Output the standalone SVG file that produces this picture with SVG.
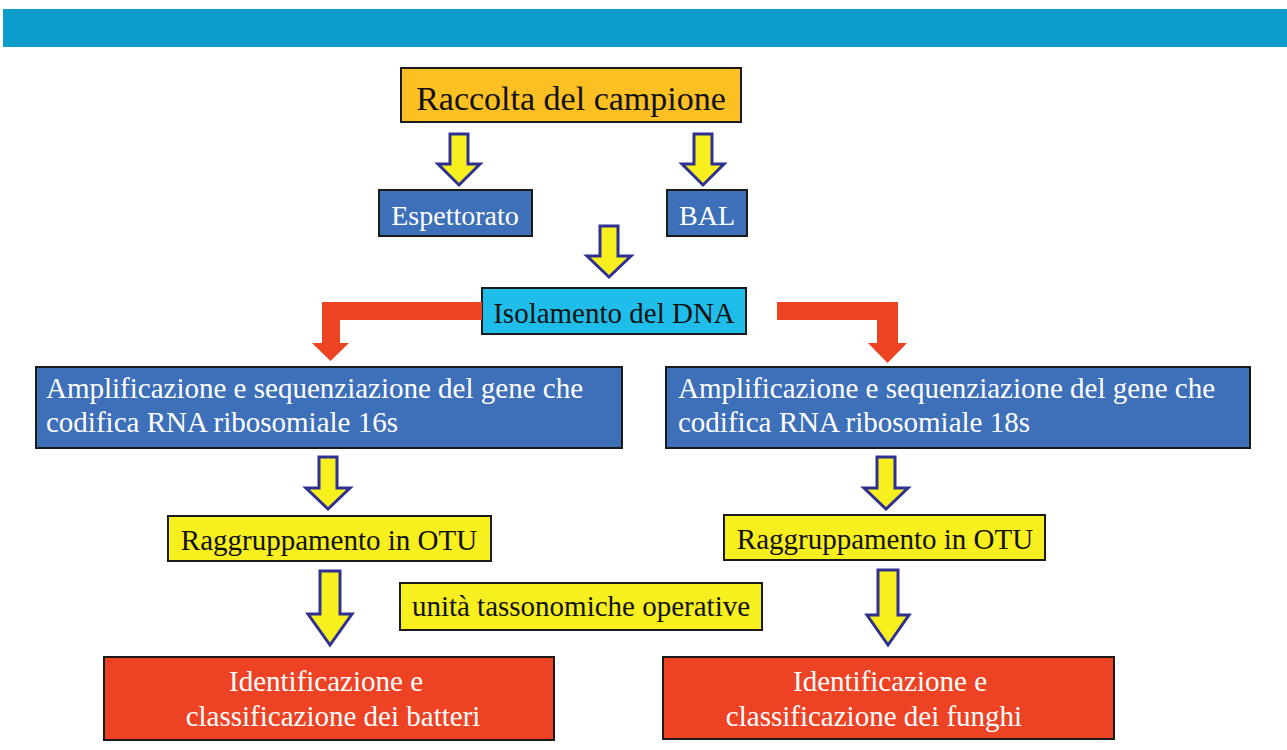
<svg xmlns="http://www.w3.org/2000/svg" width="1287" height="750" viewBox="0 0 1287 750">
<style>
text{font-family:"Liberation Serif","Times New Roman",serif;font-size:29px}
.box{stroke:#1a1a1a;stroke-width:2}
.gold{fill:#FDC022}
.blue{fill:#3E6FB9}
.cyan{fill:#1EBDEA}
.yel{fill:#F8EF1E}
.red{fill:#EE4224}
.tw{fill:#ffffff}
.tb{fill:#111111}
.c{text-anchor:middle}
.ya{fill:#F8EF1E;stroke:#2E3192;stroke-width:3;stroke-linejoin:miter}
.ra{fill:#EE4323}
</style>
<rect x="3" y="9" width="1284" height="38" fill="#0C9DCC"/>
<g id="raccolta">
<rect class="box gold" x="401" y="68" width="340" height="54"/>
<text class="tb c" x="571" y="110" style="font-size:34px">Raccolta del campione</text>
</g>
<g id="espettorato">
<rect class="box blue" x="379" y="190" width="153" height="46"/>
<text class="tw c" x="455" y="225" style="font-size:28px">Espettorato</text>
</g>
<g id="bal">
<rect class="box blue" x="667" y="190" width="80" height="46"/>
<text class="tw c" x="707" y="225" style="font-size:28px">BAL</text>
</g>
<g id="isolamento">
<rect class="box cyan" x="482" y="288" width="264" height="46"/>
<text class="tb c" x="614" y="323">Isolamento del DNA</text>
</g>
<g id="ampl16s">
<rect class="box blue" x="36" y="367" width="586" height="81"/>
<text class="tw" x="46" y="398">Amplificazione e sequenziazione del gene che</text>
<text class="tw" x="46" y="432">codifica RNA ribosomiale 16s</text>
</g>
<g id="ampl18s">
<rect class="box blue" x="666" y="367" width="584" height="81"/>
<text class="tw" x="678" y="398">Amplificazione e sequenziazione del gene che</text>
<text class="tw" x="678" y="432">codifica RNA ribosomiale 18s</text>
</g>
<g id="otu-left">
<rect class="box yel" x="168" y="516" width="323" height="45"/>
<text class="tb c" x="329" y="550">Raggruppamento in OTU</text>
</g>
<g id="otu-right">
<rect class="box yel" x="724" y="515" width="321" height="45"/>
<text class="tb c" x="885" y="549">Raggruppamento in OTU</text>
</g>
<g id="unita">
<rect class="box yel" x="400" y="583" width="362" height="47"/>
<text class="tb c" x="581" y="616">unità tassonomiche operative</text>
</g>
<g id="batteri">
<rect class="box red" x="104" y="657" width="450" height="83"/>
<text class="tw c" x="326" y="691">Identificazione e</text>
<text class="tw c" x="333" y="726">classificazione dei batteri</text>
</g>
<g id="funghi">
<rect class="box red" x="663" y="657" width="451" height="82"/>
<text class="tw c" x="890" y="691">Identificazione e</text>
<text class="tw c" x="874" y="726">classificazione dei funghi</text>
</g>
<g id="connectors">
<path class="ya" d="M450,134 H468 V164 H480 L459,185 L438,164 H450 Z"/>
<path class="ya" d="M694,134 H712 V164 H724 L703,185 L682,164 H694 Z"/>
<path class="ya" d="M600,226 H618 V256 H631 L609,277 L587,256 H600 Z"/>
<path class="ya" d="M319,457 H337 V488 H350 L328,509 L306,488 H319 Z"/>
<path class="ya" d="M877,457 H895 V488 H908 L886,509 L864,488 H877 Z"/>
<path class="ya" d="M320,571 H340 V614 H352 L330,645 L308,614 H320 Z"/>
<path class="ya" d="M878,570 H898 V615 H909 L888,645 L867,615 H878 Z"/>
<path class="ra" d="M482,302 H322 V343 H312 L330.5,361 L349,343 H340 V320 H482 Z"/>
<path class="ra" d="M777,302 H898 V343 H907 L887.5,363 L868,343 H877 V320 H777 Z"/>
</g>
</svg>
